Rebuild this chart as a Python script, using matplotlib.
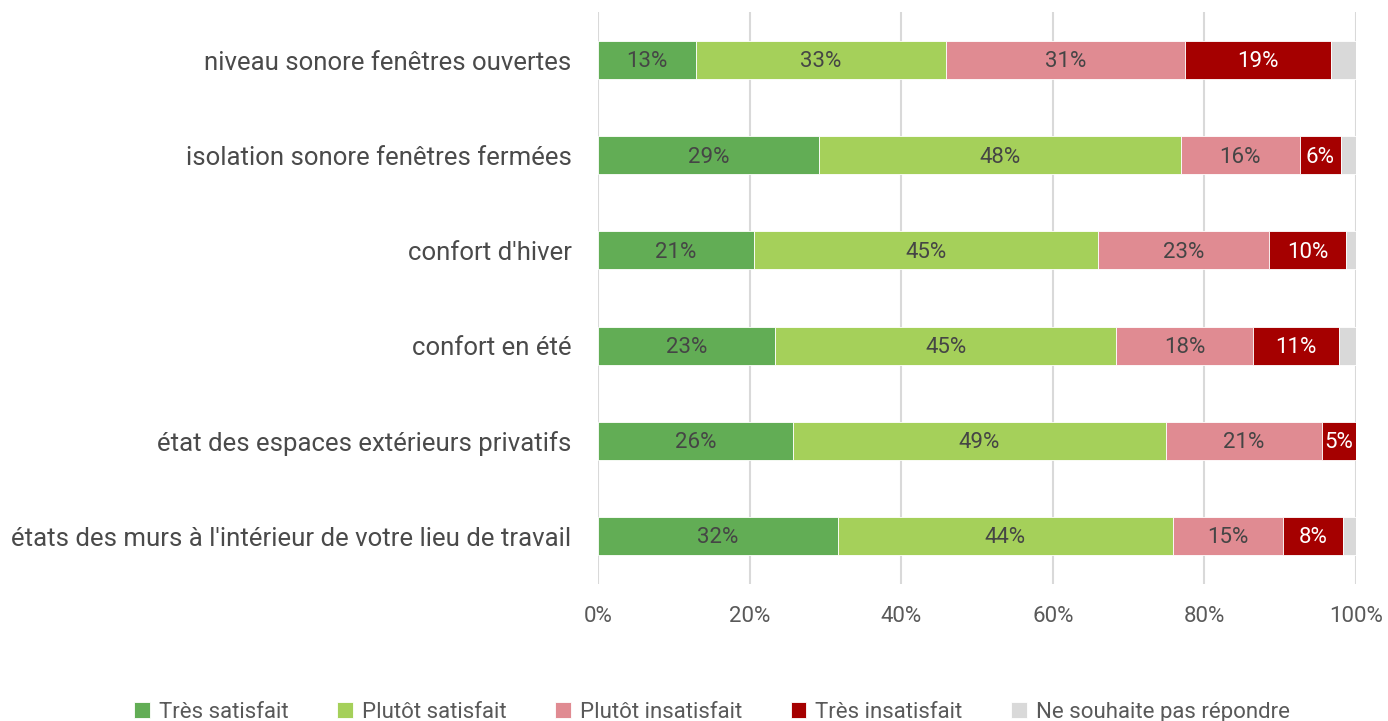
import matplotlib
matplotlib.use("Agg")
import matplotlib.pyplot as plt
import numpy as np

plt.rcParams['font.family'] = ['Roboto', 'DejaVu Sans']

categories = [
    "niveau sonore fenêtres ouvertes",
    "isolation sonore fenêtres fermées",
    "confort d'hiver",
    "confort en été",
    "état des espaces extérieurs privatifs",
    "états des murs à l'intérieur de votre lieu de travail",
]
series_names = ["Très satisfait", "Plutôt satisfait", "Plutôt insatisfait",
                "Très insatisfait", "Ne souhaite pas répondre"]
tres_satisfait = [12.9, 29.2, 20.6, 23.4, 25.7, 31.7]
plutot_satisfait = [33.0, 47.7, 45.4, 45.0, 49.2, 44.1]
plutot_insatisfait = [31.5, 15.7, 22.5, 18.0, 20.6, 14.6]
tres_insatisfait = [19.3, 5.4, 10.2, 11.3, 4.5, 7.9]
ne_repond_pas = [3.3, 2.0, 1.3, 2.4, 0.0, 1.7]
labels_tres_satisfait = ["13%", "29%", "21%", "23%", "26%", "32%"]
labels_plutot_satisfait = ["33%", "48%", "45%", "45%", "49%", "44%"]
labels_plutot_insatisfait = ["31%", "16%", "23%", "18%", "21%", "15%"]
labels_tres_insatisfait = ["19%", "6%", "10%", "11%", "5%", "8%"]

colors = ["#62AD55", "#A5D05A", "#E08B92", "#A50000", "#D9D9D9"]
text_colors = ["#454545", "#454545", "#454545", "white", None]

series = [tres_satisfait, plutot_satisfait, plutot_insatisfait, tres_insatisfait, ne_repond_pas]
series_labels = [labels_tres_satisfait, labels_plutot_satisfait, labels_plutot_insatisfait,
                 labels_tres_insatisfait, None]

fig = plt.figure(figsize=(13.88, 7.21), dpi=100)
ax = fig.add_axes([598/1388, 1 - 583.6/721, (1356-598)/1388, (583.6-12.4)/721])

y = np.arange(len(categories))
left = np.zeros(len(categories))
handles = []
for vals, name, col, tcol, labs in zip(series, series_names, colors, text_colors, series_labels):
    vals = np.array(vals)
    bars = ax.barh(y, vals, left=left, height=0.4, color=col, label=name,
                   edgecolor="white", linewidth=0.6, zorder=3)
    handles.append(bars)
    if labs is not None:
        for yi, l, v, lab in zip(y, left, vals, labs):
            ax.text(l + v/2, yi + 0.02, lab, ha="center", va="center", color=tcol,
                    fontsize=16, zorder=4)
    left = left + vals

ax.set_xlim(0, 100)
ax.set_ylim(len(categories) - 0.5, -0.5)
ax.set_yticks(y)
ax.set_yticklabels(categories, fontsize=18.5, color="#4a4a4a")
ax.set_xticks(np.arange(0, 101, 20))
ax.set_xticklabels([f"{v}%" for v in range(0, 101, 20)], fontsize=16, color="#595959")
ax.tick_params(axis="both", length=0)
ax.tick_params(axis="y", pad=19)
ax.tick_params(axis="x", pad=16)
ax.xaxis.grid(True, color="#D9D9D9", linewidth=1.5, zorder=0)
for s in ax.spines.values():
    s.set_visible(False)

leg = fig.legend(handles=handles, labels=series_names, loc="lower center",
                 bbox_to_anchor=(0.513, -0.03), ncol=5, frameon=False,
                 fontsize=16, handlelength=0.7, handleheight=0.7,
                 handletextpad=0.4, columnspacing=2.2)
for t in leg.get_texts():
    t.set_color("#595959")

fig.savefig("out.png", dpi=100)
